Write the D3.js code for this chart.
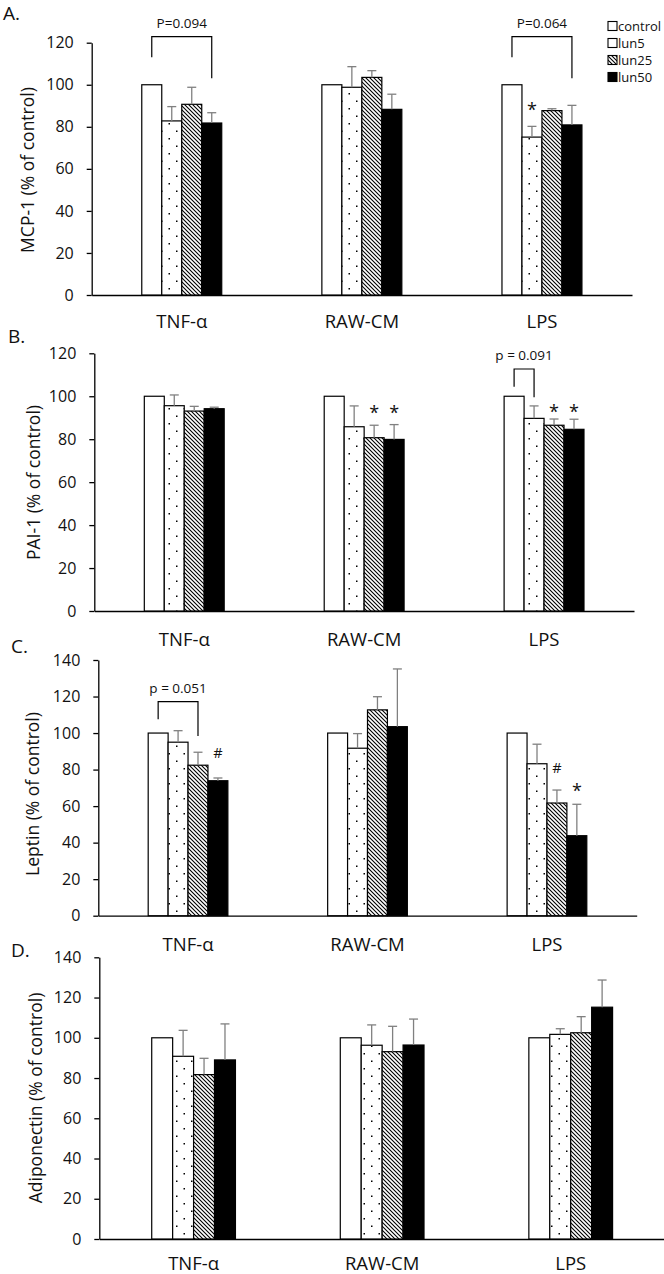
<!DOCTYPE html>
<html><head><meta charset="utf-8">
<script src="https://cdn.jsdelivr.net/npm/d3@7"></script>
<style>body{margin:0;background:#fff}svg{display:block}</style>
</head><body>
<script>
// ---------- DATA ----------
const categories = ["TNF-α", "RAW-CM", "LPS"];
const seriesNames = ["control", "lun5", "lun25", "lun50"];

// values per category: [control, lun5, lun25, lun50]
const mcp1Values = [[100, 82.8, 90.7, 81.8], [100, 98.8, 103.5, 88.3], [100, 75.1, 87.7, 80.9]];
const mcp1Errors = [[0, 6.8, 8.1, 4.9], [0, 9.8, 3.2, 7.2], [0, 5.1, 0.9, 9.3]];
const pai1Values = [[100, 95.6, 93.1, 94.2], [100, 85.8, 80.7, 79.9], [100, 89.7, 86.5, 84.6]];
const pai1Errors = [[0, 5.0, 2.2, 0.7], [0, 9.7, 5.8, 6.9], [0, 5.8, 2.9, 4.7]];
const leptinValues = [[100, 95.0, 82.4, 73.9], [100, 91.7, 112.7, 103.5], [100, 83.2, 61.7, 43.8]];
const leptinErrors = [[0, 6.3, 7.1, 1.5], [0, 8.0, 7.2, 31.6], [0, 10.7, 7.1, 17.2]];
const adipoValues = [[100, 90.8, 81.7, 89.0], [100, 96.3, 93.1, 96.4], [100, 101.7, 102.5, 115.2]];
const adipoErrors = [[0, 12.9, 8.1, 17.9], [0, 10.1, 12.6, 12.9], [0, 2.8, 8.0, 13.5]];

const ticks120 = [0, 20, 40, 60, 80, 100, 120];
const ticks140 = [0, 20, 40, 60, 80, 100, 120, 140];

const panelLetters = ["A.", "B.", "C.", "D."];
const yTitles = ["MCP-1 (% of control)", "PAI-1 (% of control)", "Leptin (% of control)", "Adiponectin (% of control)"];

// significance marks: [panel, category, series, text, y-level]
const marks = [
  [0, "LPS", "lun5", "*", 90.4],
  [1, "RAW-CM", "lun25", "*", 94.4],
  [1, "RAW-CM", "lun50", "*", 94.4],
  [1, "LPS", "lun25", "*", 95.3],
  [1, "LPS", "lun50", "*", 94.9],
  [2, "TNF-α", "lun50", "#", 89.3],
  [2, "LPS", "lun25", "#", 81.1],
  [2, "LPS", "lun50", "*", 71.0]
];
// brackets: [panel, category, from series, to series, top, left-end, right-end, label]
const brackets = [
  [0, "TNF-α", "control", "lun50", 122.9, 113.1, 103.1, "P=0.094"],
  [0, "LPS", "control", "lun50", 122.9, 113.1, 103.1, "P=0.064"],
  [1, "LPS", "control", "lun5", 112.7, 104.4, 99.5, "p = 0.091"],
  [2, "TNF-α", "control", "lun25", 117.2, 107.6, 98.4, "p = 0.051"]
];

const panelValues = [mcp1Values, pai1Values, leptinValues, adipoValues];
const panelErrors = [mcp1Errors, pai1Errors, leptinErrors, adipoErrors];
const panelTicks = [ticks120, ticks120, ticks140, ticks140];

// ---------- LAYOUT ----------
const layout = [
  {ax: 91.7, xEnd: 632, y0: 295, yTop: 42.7, catY: 328, letX: 3, letY: 20, titleX: 28, titleY: 170},
  {ax: 94.3, xEnd: 634, y0: 611, yTop: 353.3, catY: 646, letX: 8, letY: 343, titleX: 34, titleY: 482.5},
  {ax: 98.3, xEnd: 636.7, y0: 915.7, yTop: 660, catY: 951, letX: 11, letY: 653, titleX: 33, titleY: 794},
  {ax: 99.3, xEnd: 665, y0: 1239, yTop: 957.3, catY: 1270, letX: 11, letY: 957, titleX: 36, titleY: 1098}
];
const FONT = "'Open Sans', 'Noto Sans', sans-serif";

const svg = d3.select("body").append("svg").attr("width", 664).attr("height", 1274)
  .style("font-family", FONT);

const defs = svg.append("defs");
const dots = defs.append("pattern").attr("id", "dots").attr("patternUnits", "userSpaceOnUse")
  .attr("width", 15).attr("height", 15);
dots.append("rect").attr("width", 15).attr("height", 15).attr("fill", "#fff");
dots.append("rect").attr("x", 3.5).attr("y", 3).attr("width", 1.5).attr("height", 1.5).attr("fill", "#000");
dots.append("rect").attr("x", 11).attr("y", 10.5).attr("width", 1.5).attr("height", 1.5).attr("fill", "#000");
const hatch = defs.append("pattern").attr("id", "hatch").attr("patternUnits", "userSpaceOnUse")
  .attr("width", 4).attr("height", 4);
hatch.append("rect").attr("width", 4).attr("height", 4).attr("fill", "#fff");
hatch.append("path").attr("d", "M-1,-1L5,5M-1,3L1,5M3,-1L5,1").attr("stroke", "#000").attr("stroke-width", 1.1);

const fills = {control: "#fff", lun5: "url(#dots)", lun25: "url(#hatch)", lun50: "#000"};

panelValues.forEach((vals, p) => {
  const L = layout[p];
  const maxV = d3.max(panelTicks[p]);
  const y = d3.scaleLinear().domain([0, maxV]).range([L.y0, L.yTop]);
  const x = d3.scaleBand().domain(categories).range([L.ax, L.xEnd]);
  const bw = x.bandwidth();
  const xs = d3.scaleBand().domain(seriesNames).range([bw * 0.278, bw * 0.722]);
  const g = svg.append("g");

  // y axis
  const ya = g.append("g").attr("transform", `translate(${L.ax},0)`)
    .call(d3.axisLeft(y).tickValues(panelTicks[p]).tickSize(5).tickSizeOuter(0).tickPadding(13));
  ya.selectAll("path,line").attr("stroke", "#000").attr("stroke-width", 1.3);
  ya.selectAll("text").attr("font-size", 16).attr("font-family", FONT).attr("fill", "#111");

  // x axis
  const xa = g.append("g").attr("transform", `translate(0,${L.y0})`)
    .call(d3.axisBottom(x).tickSize(0).tickSizeOuter(0).tickPadding(0));
  xa.select("path").attr("stroke", "#000").attr("stroke-width", 1.3);
  xa.selectAll("text").attr("font-size", 18.5).attr("font-family", FONT).attr("fill", "#111")
    .attr("dy", null).attr("y", L.catY - L.y0);

  // bars
  categories.forEach((c, ci) => {
    seriesNames.forEach((s, si) => {
      const v = vals[ci][si];
      const bx = x(c) + xs(s);
      g.append("rect").attr("x", bx).attr("y", y(v)).attr("width", xs.bandwidth())
        .attr("height", y(0) - y(v)).attr("fill", fills[s]).attr("stroke", "#000").attr("stroke-width", 1.2);
      const e = panelErrors[p][ci][si];
      if (e > 0) {
        const cx = bx + xs.bandwidth() / 2;
        g.append("line").attr("x1", cx).attr("x2", cx).attr("y1", y(v)).attr("y2", y(v + e))
          .attr("stroke", "#808080").attr("stroke-width", 1.3);
        g.append("line").attr("x1", cx - 4.5).attr("x2", cx + 4.5).attr("y1", y(v + e)).attr("y2", y(v + e))
          .attr("stroke", "#808080").attr("stroke-width", 1.3);
      }
    });
  });

  // marks
  marks.filter(m => m[0] === p).forEach(m => {
    const cx = x(m[1]) + xs(m[2]) + xs.bandwidth() / 2;
    g.append("text").attr("x", cx).attr("y", y(m[4])).attr("dy", m[3] === "*" ? "0.62em" : "0.36em")
      .attr("text-anchor", "middle").attr("font-size", m[3] === "*" ? 18 : 14.5).attr("fill", "#111").text(m[3]);
  });

  // brackets
  brackets.filter(b => b[0] === p).forEach(b => {
    const x1 = x(b[1]) + xs(b[2]) + xs.bandwidth() / 2;
    const x2 = x(b[1]) + xs(b[3]) + xs.bandwidth() / 2;
    g.append("path").attr("d", `M${x1},${y(b[5])}V${y(b[4])}H${x2}V${y(b[6])}`)
      .attr("fill", "none").attr("stroke", "#000").attr("stroke-width", 1.2);
    g.append("text").attr("x", (x1 + x2) / 2).attr("y", y(b[4]) - 9)
      .attr("text-anchor", "middle").attr("font-size", 13.5).attr("fill", "#111").text(b[7]);
  });

  // y title
  g.append("text").attr("transform", `translate(${L.titleX},${L.titleY}) rotate(-90)`)
    .attr("text-anchor", "middle").attr("dy", "0.35em").attr("font-size", 17.5).attr("fill", "#111")
    .text(yTitles[p]);

  // panel letter
  g.append("text").attr("x", L.letX).attr("y", L.letY).attr("font-size", 19).attr("fill", "#111").text(panelLetters[p]);

  // legend (panel A only)
  if (p === 0) {
    const lg = g.append("g").attr("transform", "translate(608,0)");
    seriesNames.forEach((s, i) => {
      const ly = 26 + i * 17;
      lg.append("rect").attr("x", 0).attr("y", ly - 4.5).attr("width", 9).attr("height", 9)
        .attr("fill", fills[s]).attr("stroke", "#000").attr("stroke-width", 1.1);
      lg.append("text").attr("x", 10).attr("y", ly).attr("dy", "0.35em").attr("font-size", 13)
        .attr("fill", "#111").text(s);
    });
  }
});
</script>
</body></html>
